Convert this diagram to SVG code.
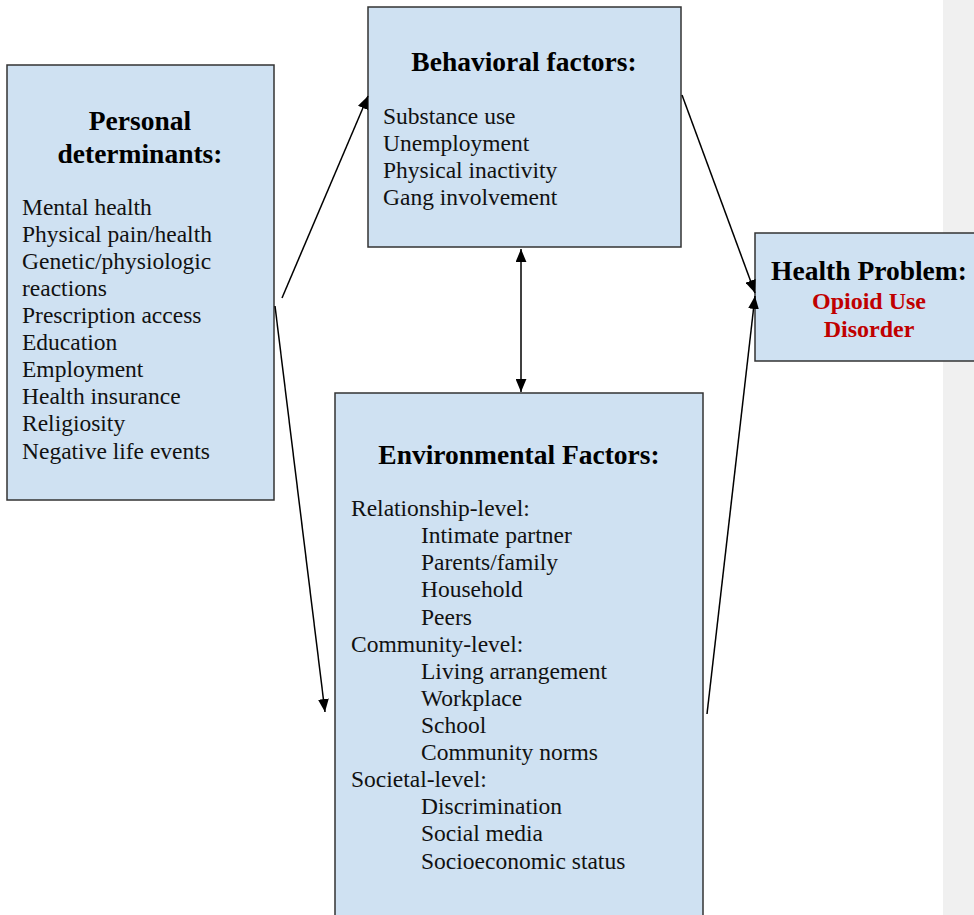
<svg xmlns="http://www.w3.org/2000/svg" width="974" height="915" viewBox="0 0 974 915">
<defs>
<style>
.box{fill:#cfe1f2;stroke:#333;stroke-width:1.5}
.t{font-family:"Liberation Serif","Times New Roman",serif;font-size:27.5px;font-weight:bold;fill:#000;text-anchor:middle}
.b{font-family:"Liberation Serif","Times New Roman",serif;font-size:23.5px;fill:#111}
.r{font-family:"Liberation Serif","Times New Roman",serif;font-size:24px;font-weight:bold;fill:#c00000;text-anchor:middle}
.c{stroke:#000;stroke-width:1.5;fill:none}
</style>
<marker id="ah" viewBox="0 0 12 10" refX="12" refY="5" markerWidth="13" markerHeight="11" markerUnits="userSpaceOnUse" orient="auto-start-reverse">
<path d="M0,0 L12,5 L0,10 z" fill="#000"/>
</marker>
</defs>
<rect width="974" height="915" fill="#fff"/>
<rect x="943" y="0" width="31" height="915" fill="#f0f0f0"/>
<g id="personal">
<rect class="box" x="7" y="65" width="267" height="435"/>
<text class="t" x="140" y="130">Personal</text>
<text class="t" x="140" y="163">determinants:</text>
<text class="b" x="22" y="215">Mental health</text>
<text class="b" x="22" y="242">Physical pain/health</text>
<text class="b" x="22" y="269">Genetic/physiologic</text>
<text class="b" x="22" y="296">reactions</text>
<text class="b" x="22" y="323">Prescription access</text>
<text class="b" x="22" y="350">Education</text>
<text class="b" x="22" y="377">Employment</text>
<text class="b" x="22" y="404">Health insurance</text>
<text class="b" x="22" y="431">Religiosity</text>
<text class="b" x="22" y="459">Negative life events</text>
</g>
<g id="behavioral">
<rect class="box" x="368" y="7" width="313" height="240"/>
<text class="t" x="524" y="71">Behavioral factors:</text>
<text class="b" x="383" y="124">Substance use</text>
<text class="b" x="383" y="151">Unemployment</text>
<text class="b" x="383" y="178">Physical inactivity</text>
<text class="b" x="383" y="205">Gang involvement</text>
</g>
<g id="health">
<rect class="box" x="755" y="233" width="222" height="128"/>
<text class="t" x="869" y="280">Health Problem:</text>
<text class="r" x="869" y="309">Opioid Use</text>
<text class="r" x="869" y="337">Disorder</text>
</g>
<g id="environmental">
<rect class="box" x="335" y="393" width="368" height="530"/>
<text class="t" x="519" y="464">Environmental Factors:</text>
<text class="b" x="351" y="516">Relationship-level:</text>
<text class="b" x="421" y="543">Intimate partner</text>
<text class="b" x="421" y="570">Parents/family</text>
<text class="b" x="421" y="597">Household</text>
<text class="b" x="421" y="625">Peers</text>
<text class="b" x="351" y="652">Community-level:</text>
<text class="b" x="421" y="679">Living arrangement</text>
<text class="b" x="421" y="706">Workplace</text>
<text class="b" x="421" y="733">School</text>
<text class="b" x="421" y="760">Community norms</text>
<text class="b" x="351" y="787">Societal-level:</text>
<text class="b" x="421" y="814">Discrimination</text>
<text class="b" x="421" y="841">Social media</text>
<text class="b" x="421" y="869">Socioeconomic status</text>
</g>
<g id="connectors">
<line class="c" x1="282" y1="298" x2="368" y2="96" marker-end="url(#ah)"/>
<line class="c" x1="275" y1="306" x2="325" y2="712" marker-end="url(#ah)"/>
<line class="c" x1="521" y1="249" x2="521" y2="392" marker-start="url(#ah)" marker-end="url(#ah)"/>
<line class="c" x1="682" y1="95" x2="755" y2="293" marker-end="url(#ah)"/>
<line class="c" x1="707" y1="714" x2="755" y2="296" marker-end="url(#ah)"/>
</g>
</svg>
